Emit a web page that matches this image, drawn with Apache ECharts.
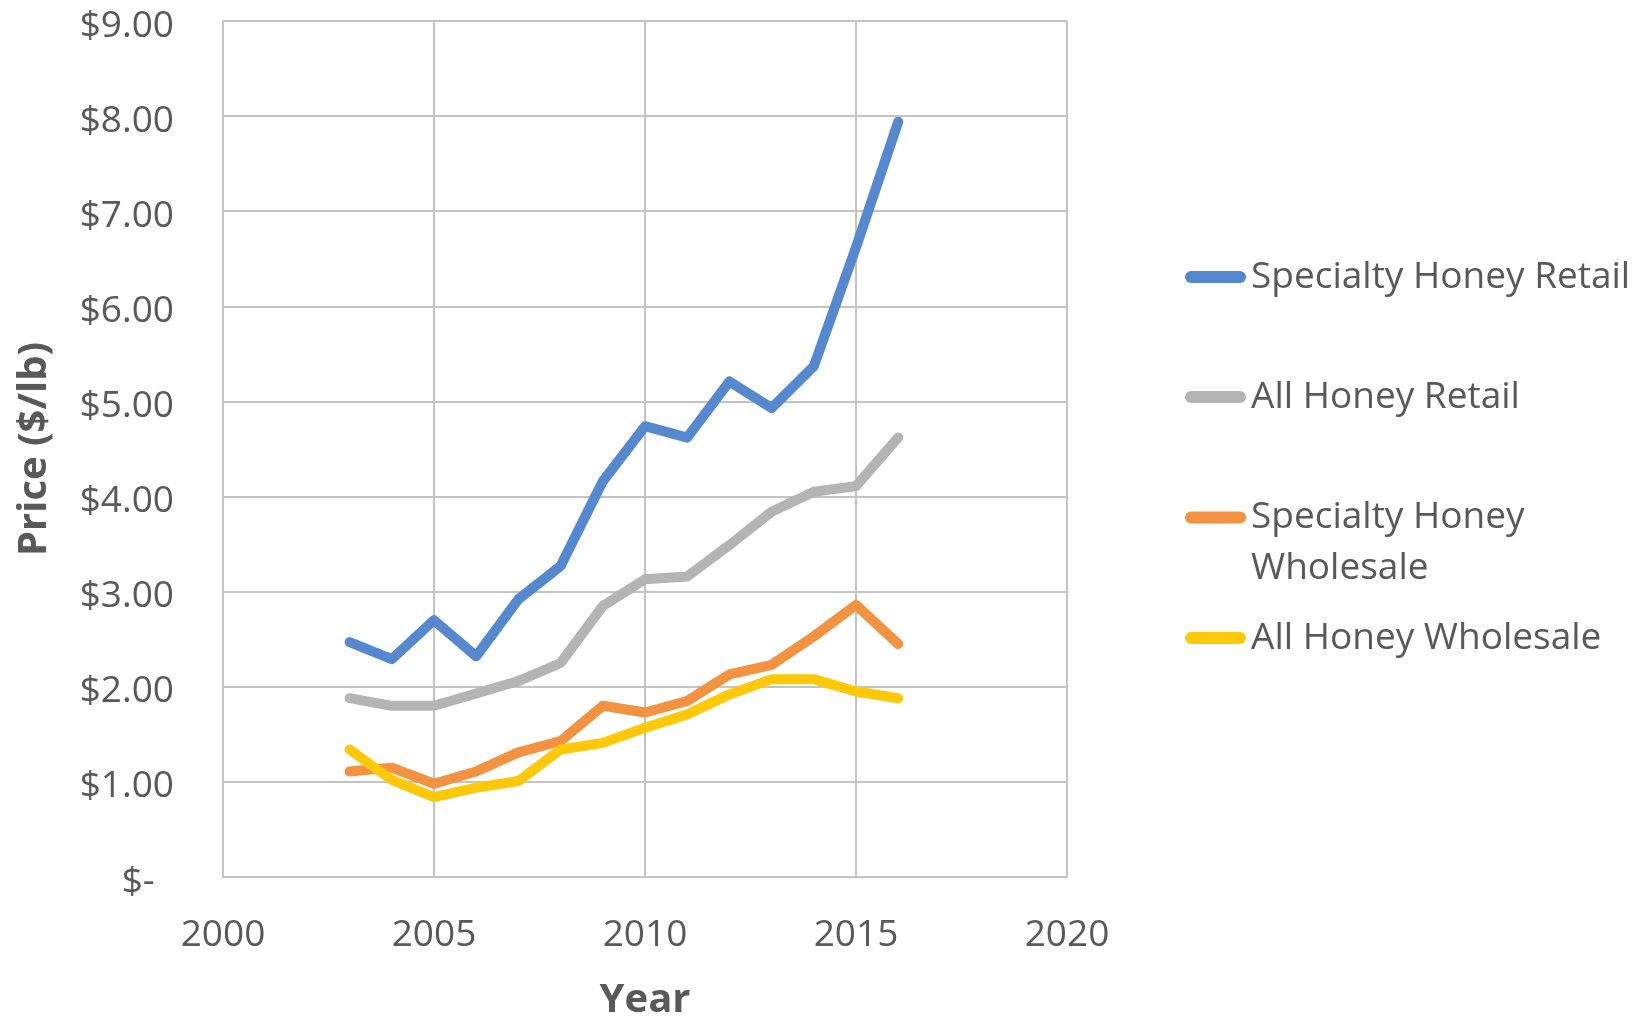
<!DOCTYPE html>
<html>
<head>
<meta charset="utf-8">
<title>Honey Prices</title>
<script src="https://cdn.jsdelivr.net/npm/echarts@6/dist/echarts.min.js"></script>
<style>
  html, body { margin: 0; padding: 0; background: #ffffff; }
  #chart { width: 1650px; height: 1017px; }
</style>
</head>
<body>
<div id="chart"></div>
<script>
// Honey prices per pound, 2003-2016
const years = [2003, 2004, 2005, 2006, 2007, 2008, 2009, 2010, 2011, 2012, 2013, 2014, 2015, 2016];
const specialtyRetail    = [2.47, 2.29, 2.70, 2.32, 2.92, 3.27, 4.16, 4.74, 4.62, 5.21, 4.93, 5.37, 6.62, 7.94];
const allRetail          = [1.88, 1.80, 1.80, 1.93, 2.06, 2.25, 2.85, 3.13, 3.16, 3.49, 3.84, 4.05, 4.11, 4.62];
const specialtyWholesale = [1.11, 1.15, 0.98, 1.11, 1.31, 1.43, 1.80, 1.73, 1.85, 2.13, 2.23, 2.53, 2.86, 2.45];
const allWholesale       = [1.34, 1.02, 0.84, 0.94, 1.01, 1.34, 1.41, 1.57, 1.71, 1.92, 2.08, 2.08, 1.95, 1.88];

const seriesNames = ['Specialty Honey Retail', 'All Honey Retail', 'Specialty Honey Wholesale', 'All Honey Wholesale'];
const seriesValues = [specialtyRetail, allRetail, specialtyWholesale, allWholesale];
const seriesColors = ['#5588CF', '#B4B4B4', '#F39241', '#FFC90A'];

const textColor = '#595959';
const gridColor = '#C4C4C4';
const fontFamily = '"Open Sans", "Noto Sans", sans-serif';

const pairs = vals => years.map((y, i) => [y, vals[i]]);

// rounded bar used as the legend key
const legendIcon = 'path://M6,0 H55 A6,6 0 0 1 55,12 H6 A6,6 0 0 1 6,0 Z';

function legendFor(name, top, extra) {
  extra = extra || {};
  const item = {
    data: [name],
    left: 1185,
    top: top,
    padding: 0,
    orient: 'vertical',
    icon: legendIcon,
    itemWidth: 61,
    itemHeight: 12,
    selectedMode: false,
    textStyle: Object.assign({
      color: textColor,
      fontFamily: fontFamily,
      fontSize: 37,
      lineHeight: 44,
      padding: [12, 0, 0, 0]
    }, extra.textStyle || {})
  };
  if (extra.formatter) item.formatter = extra.formatter;
  return item;
}

const chart = echarts.init(document.getElementById('chart'), null, { renderer: 'canvas' });

chart.setOption({
  animation: false,
  backgroundColor: '#ffffff',
  grid: { left: 223, right: 583, top: 21, bottom: 140, containLabel: false, outerBoundsMode: 'none' },
  xAxis: {
    type: 'value',
    min: 2000,
    max: 2020,
    interval: 5,
    name: 'Year',
    nameLocation: 'middle',
    nameGap: 104,
    nameTextStyle: { color: textColor, fontFamily: fontFamily, fontSize: 40, fontWeight: 'bold', lineHeight: 40 },
    axisLine: { show: true, lineStyle: { color: gridColor, width: 2 } },
    axisTick: { show: false },
    splitLine: { show: true, lineStyle: { color: gridColor, width: 2 } },
    axisLabel: {
      color: textColor, fontFamily: fontFamily, fontSize: 37, lineHeight: 44, margin: 36,
      formatter: v => String(v)
    }
  },
  yAxis: {
    type: 'value',
    min: 0,
    max: 9,
    interval: 1,
    name: 'Price ($/lb)',
    nameLocation: 'middle',
    nameGap: 168,
    nameTextStyle: { color: textColor, fontFamily: fontFamily, fontSize: 40, fontWeight: 'bold', lineHeight: 40 },
    axisLine: { show: true, lineStyle: { color: gridColor, width: 2 } },
    axisTick: { show: false },
    splitLine: { show: true, lineStyle: { color: gridColor, width: 2 } },
    axisLabel: {
      color: textColor, fontFamily: fontFamily, fontSize: 37, margin: 49,
      // labels sit a little below their gridlines
      verticalAlign: 'top', lineHeight: 10,
      formatter: v => (v === 0 ? '$-  ' : '$' + v.toFixed(2))
    }
  },
  legend: [
    legendFor(seriesNames[0], 249),
    legendFor(seriesNames[1], 369),
    // two-line entry: its first line sits level with the key
    legendFor(seriesNames[2], 435, {
      textStyle: { lineHeight: 51 },
      formatter: () => '\nSpecialty Honey\nWholesale'
    }),
    legendFor(seriesNames[3], 610)
  ],
  series: seriesNames.map((name, i) => ({
    name: name,
    type: 'line',
    data: pairs(seriesValues[i]),
    showSymbol: false,
    symbol: 'none',
    smooth: false,
    color: seriesColors[i],
    lineStyle: { color: seriesColors[i], width: 10, cap: 'round', join: 'round' },
    emphasis: { disabled: true }
  }))
});
</script>
</body>
</html>
